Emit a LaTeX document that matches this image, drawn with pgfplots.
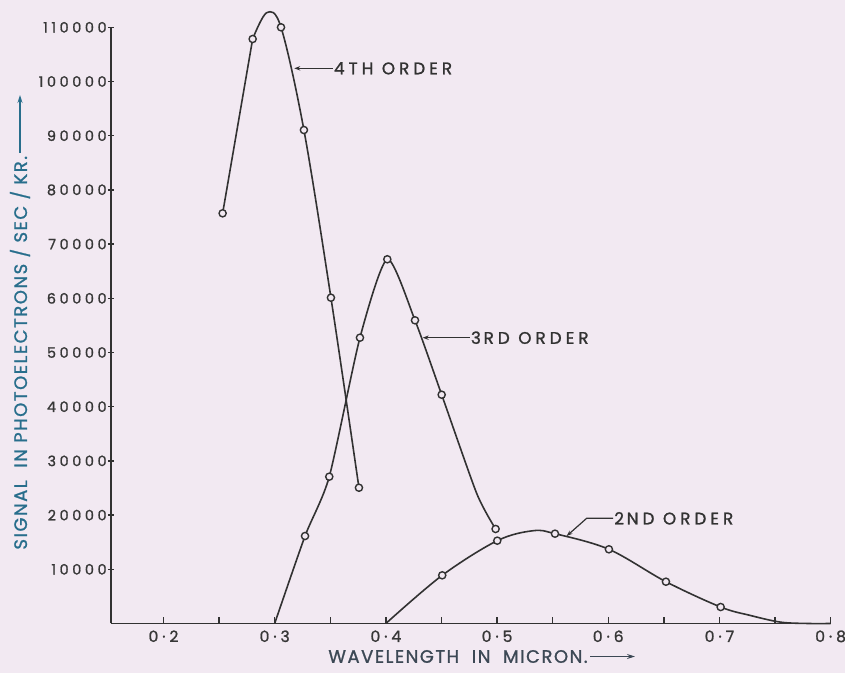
\documentclass[border=0pt]{standalone}
\usepackage{fontspec}
\setmainfont{Poppins}
\newfontfamily\ticklettering[LetterSpace=25, FakeBold=1.2]{Poppins}
\newfontfamily\annlettering[LetterSpace=24, FakeBold=1.2]{Poppins}
\newfontfamily\lablettering[LetterSpace=8.5, FakeBold=1.2]{Poppins}
\usepackage{pgfplots}
\pgfplotsset{compat=1.18}
\usetikzlibrary{arrows.meta}
\definecolor{bg}{RGB}{242,233,242}
\definecolor{ink}{RGB}{50,50,50}
\definecolor{tickc}{RGB}{55,55,55}
\definecolor{ylab}{RGB}{40,110,140}
\definecolor{xlab}{RGB}{60,72,85}
\begin{document}
\begin{tikzpicture}
\fill[bg] (0,0) rectangle (422.5pt,336.5pt);
\path[use as bounding box] (0,0) rectangle (422.5pt,336.5pt);
\begin{axis}[
  at={(55.5pt,24.75pt)}, anchor=south west,
  scale only axis, width=359.8pt, height=298.1pt,
  xmin=0.1528, xmax=0.8, ymin=0, ymax=110000,
  axis lines=left, axis line style={-, draw=ink, line width=0.8pt},
  clip=false,
  scaled y ticks=false, scaled x ticks=false,
  tick align=inside,
  major tick length=3pt, minor tick length=3pt,
  every tick/.style={draw=ink, line width=0.7pt},
  y tick style={xshift=-1.3pt},
  xtick={0.2,0.3,0.4,0.5,0.6,0.7,0.8},
  xticklabels={0·2,0·3,0·4,0·5,0·6,0·7,0·8},
  minor xtick={0.25,0.35,0.45,0.55,0.65,0.75},
  ytick={10000,20000,30000,40000,50000,60000,70000,80000,90000,100000,110000},
  yticklabels={10000,20000,30000,40000,50000,60000,70000,80000,90000,100000,110000},
  xticklabel style={font=\ticklettering\fontsize{7.8}{9}\selectfont, text=tickc, inner sep=0pt, yshift=-3.3pt},
  yticklabel style={font=\ticklettering\fontsize{7.2}{9}\selectfont, text=tickc, inner sep=0pt, xshift=-2pt},
]
% 4th order
\addplot[ink, line width=0.8pt, mark=none] coordinates {(0.2532,75680) (0.2802,107840)};
\addplot[ink, line width=0.8pt, smooth, tension=0.55, mark=none] coordinates {
 (0.2802,107840) (0.2928,112690) (0.3057,110000) (0.3263,91050) (0.3506,60110) (0.3758,25050)};
% 3rd order
\addplot[ink, line width=0.8pt, smooth, tension=0.4, mark=none] coordinates {
 (0.3,0) (0.3273,16140) (0.3491,27085) (0.3767,52730) (0.4013,67200) (0.4262,55940) (0.4502,42210) (0.4817,24000) (0.4987,17440)};
% 2nd order
\addplot[ink, line width=0.8pt, smooth, tension=0.55, mark=none] coordinates {
 (0.4,0) (0.4507,8890) (0.5002,15280) (0.5326,17120) (0.5521,16570) (0.6006,13690) (0.6519,7710) (0.7011,3040) (0.7275,1500) (0.755,250) (0.78,0) (0.8,0)};
% measured points
\addplot[only marks, mark=*, mark size=1.8pt, mark options={draw=ink, fill=bg, line width=0.7pt}] coordinates {
 (0.2532,75680) (0.2802,107840) (0.3057,110000) (0.3263,91050) (0.3506,60110) (0.3758,25050)};
\addplot[only marks, mark=*, mark size=1.8pt, mark options={draw=ink, fill=bg, line width=0.7pt}] coordinates {
 (0.3273,16140) (0.3491,27085) (0.3767,52730) (0.4013,67200) (0.4262,55940) (0.4502,42210) (0.4987,17440)};
\addplot[only marks, mark=*, mark size=1.8pt, mark options={draw=ink, fill=bg, line width=0.7pt}] coordinates {
 (0.4507,8890) (0.5002,15280) (0.5521,16570) (0.6006,13690) (0.6519,7710) (0.7011,3040)};
% annotations
\draw[ink, line width=0.6pt, -{Stealth[length=3pt,width=2.2pt]}] (axis cs:0.3524,102430) -- (axis cs:0.3176,102430);
\node[anchor=west, inner sep=0pt, text=ink, font=\annlettering\fontsize{8.4}{10}\selectfont] at (axis cs:0.3530,102430) {4TH ORDER};
\draw[ink, line width=0.6pt, -{Stealth[length=3pt,width=2.2pt]}] (axis cs:0.4756,52730) -- (axis cs:0.4331,52730);
\node[anchor=west, inner sep=0pt, text=ink, font=\annlettering\fontsize{8.4}{10}\selectfont] at (axis cs:0.4762,52730) {3\,RD ORDER};
\draw[ink, line width=0.6pt, -{Stealth[length=3pt,width=2.2pt]}] (axis cs:0.6045,19410) -- (axis cs:0.5806,19410) -- (axis cs:0.5626,16140);
\node[anchor=west, inner sep=0pt, text=ink, font=\annlettering\fontsize{8.4}{10}\selectfont] at (axis cs:0.6051,19410) {2\,ND ORDER};
\end{axis}
\node[rotate=90, anchor=west, inner sep=0pt, text=ylab, font=\lablettering\fontsize{9}{10}\selectfont] (yl) at (10pt,61.5pt) {SIGNAL\ \ IN PHOTOELECTRONS / SEC / KR.};
\draw[ylab, line width=0.6pt, -{Stealth[length=4pt,width=2.5pt]}] (yl.east) ++(0,1.5pt) -- (10pt,289pt);
\node[anchor=west, inner sep=0pt, text=xlab, font=\lablettering\fontsize{9}{10}\selectfont] (xl) at (164pt,8.25pt) {WAVELENGTH\ \ IN\ \ MICRON.};
\draw[xlab, line width=0.6pt, -{Stealth[length=4pt,width=2.5pt]}] (xl.east) ++(1pt,0) -- (317.5pt,8.25pt);
\end{tikzpicture}
\end{document}
